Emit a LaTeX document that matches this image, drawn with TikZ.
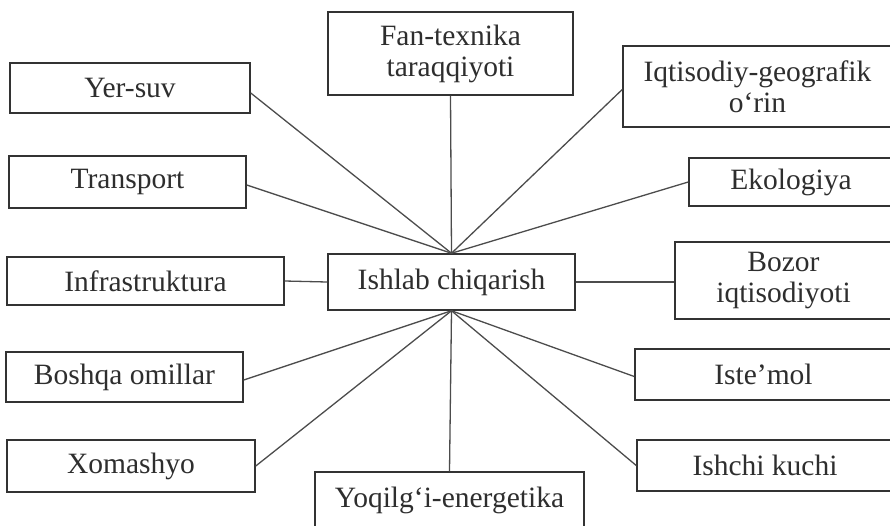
\documentclass[tikz,border=0pt]{standalone}
\usepackage{fontspec}
\setmainfont{Liberation Serif}
\begin{document}
\begin{tikzpicture}[x=1pt,y=-1pt,
  box/.style={draw=black!80, line width=1.5pt, fill=white, text=black!82,
    font=\fontsize{29.5}{31}\selectfont, align=center, inner sep=0pt},
  conn/.style={draw=black!70, line width=1.3pt}]
\useasboundingbox (0,0) rectangle (890,525);
\clip (0,0) rectangle (890,525);
% left column
\node[box, minimum width=245, minimum height=83] (fan) at (450.5,53.5) {Fan-texnika\\taraqqiyoti};
\node[box, minimum width=240, minimum height=50] (yer) at (130,88) {Yer-suv};
\node[box, minimum width=237, minimum height=52] (tra) at (127.5,182) {Transport};
\node[box, minimum width=277, minimum height=48] (inf) at (145.5,281) {Infrastruktura};
\node[box, minimum width=247, minimum height=56] (ish) at (451.5,282) {Ishlab chiqarish};
\node[box, minimum width=237, minimum height=50] (bos) at (124.5,377) {Boshqa omillar};
\node[box, minimum width=248, minimum height=52] (xom) at (131,466) {Xomashyo};
\node[box, minimum width=269, minimum height=56] (yoq) at (449.5,500) {Yoqilg‘i-energetika};
% right column
\node[box, minimum width=269, minimum height=81] (iqt) at (757.5,86.5) {Iqtisodiy-geografik\\o‘rin};
\node[box, minimum width=204, minimum height=48] (eko) at (791,182) {Ekologiya};
\node[box, minimum width=217, minimum height=77] (boz) at (783.5,280.5) {Bozor\\iqtisodiyoti};
\node[box, minimum width=257, minimum height=51] (ist) at (763.5,374.5) {Iste’mol};
\node[box, minimum width=256, minimum height=51] (ishc) at (765,465.5) {Ishchi kuchi};
% connectors
\draw[conn] (fan.south) -- (ish.north);
\draw[conn] ([yshift=-5pt]yer.east) -- (ish.north);
\draw[conn] ([yshift=-3pt]tra.east) -- (ish.north);
\draw[conn] ([yshift=-3pt]iqt.west) -- (ish.north);
\draw[conn] (eko.west) -- (ish.north);
\draw[conn] (inf.east) -- (ish.west);
\draw[conn] (ish.east) -- (ish.east -| boz.west);
\draw[conn] ([yshift=-3pt]bos.east) -- (ish.south);
\draw[conn] (xom.east) -- (ish.south);
\draw[conn] ([yshift=-2pt]ist.west) -- (ish.south);
\draw[conn] (ishc.west) -- (ish.south);
\draw[conn] (ish.south) -- (yoq.north);
\end{tikzpicture}
\end{document}
